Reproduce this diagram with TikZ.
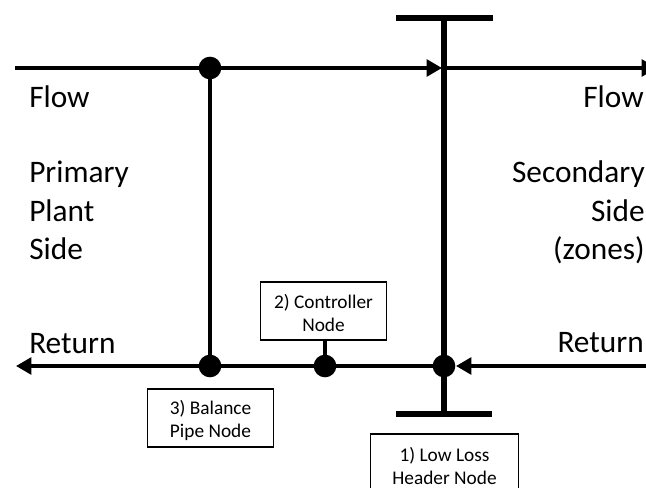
\documentclass[tikz,border=0pt]{standalone}
\usepackage{fontspec}
\setmainfont{Carlito}
\usetikzlibrary{arrows.meta}
\tikzset{
  pipe/.style={line width=2.7pt,black},
  header/.style={line width=5.2pt,black},
  flowtip/.style={-{Triangle[length=11.5pt,width=12.5pt]},shorten >=0pt},
  junction/.style={circle,fill=black,inner sep=0pt,outer sep=0pt,minimum size=17pt},
  nodebox/.style={draw=black,line width=0.9pt,fill=white,align=center,font=\fontsize{14.5}{17}\selectfont,inner sep=0pt,outer sep=0pt},
  biglabel/.style={font=\fontsize{23.5}{24}\selectfont,inner sep=0pt,anchor=base west},
  biglabelr/.style={font=\fontsize{23.5}{24}\selectfont,inner sep=0pt,anchor=base east}
}
\begin{document}
\begin{tikzpicture}[x=0.75pt,y=-0.75pt]
\useasboundingbox (0,0) rectangle (646,488);
\clip (0,0) rectangle (646,488);
% free ends and bus points
\coordinate (flowL) at (15,68);
\coordinate (flowHead) at (442,68);
\coordinate (flowHeadEnd) at (657,68);
\coordinate (retR) at (646,366);
\coordinate (retTip) at (456,366);
\coordinate (retL) at (16,366);
\coordinate (hdrTop) at (444,18);
\coordinate (hdrBot) at (444,414);
\coordinate (hdrTopL) at (396,18);
\coordinate (hdrTopR) at (493,18);
\coordinate (hdrBotL) at (396,414);
\coordinate (hdrBotR) at (492,414);
% header
\draw[header] (hdrTop) -- (hdrBot);
\draw[header] (hdrTopL) -- (hdrTopR);
\draw[header] (hdrBotL) -- (hdrBotR);
% junctions
\node[junction] (jTop) at (210,68) {};
\node[junction] (jBal) at (210,366) {};
\node[junction] (jCtl) at (325,366) {};
\node[junction] (jHdr) at (444,366) {};
% boxes
\node[nodebox,minimum width=95pt,minimum height=43.5pt] (ctl) at (323.5,311) {\rule{0pt}{14pt}2) Controller\\Node};
\node[nodebox,minimum width=95pt,minimum height=43.5pt] (bal) at (210.5,418) {\rule{0pt}{14pt}3) Balance\\Pipe Node};
\node[nodebox,minimum width=111.5pt,minimum height=48pt] (low) at (444.5,466) {1) Low Loss\\Header Node};
% pipes
\draw[pipe] (flowL) -- (jTop);
\draw[pipe,flowtip] (jTop) -- (flowHead);
\draw[pipe,flowtip] (flowHead) -- (flowHeadEnd);
\draw[pipe] (jTop) -- (jBal);
\draw[pipe,flowtip] (jBal) -- (retL);
\draw[pipe] (jBal) -- (jCtl);
\draw[pipe] (jCtl) -- (jHdr);
\draw[pipe,flowtip] (retR) -- (retTip);
\draw[line width=2.7pt] (ctl.south -| jCtl) -- (jCtl);
% labels
\node[biglabel] (t1) at (29,108) {Flow};
\node[biglabel] (t2) at (29,183) {Primary};
\node[biglabel] (t3) at (29,222) {Plant};
\node[biglabel] (t4) at (29,260) {Side};
\node[biglabel] (t5) at (29,353) {Return};
\node[biglabelr] (t6) at (644,108) {Flow};
\node[biglabelr] (t7) at (645,183) {Secondary};
\node[biglabelr] (t8) at (645,222) {Side};
\node[biglabelr] (t9) at (645,260) {(zones)};
\node[biglabelr] (t10) at (644,352) {Return};
\end{tikzpicture}
\end{document}
